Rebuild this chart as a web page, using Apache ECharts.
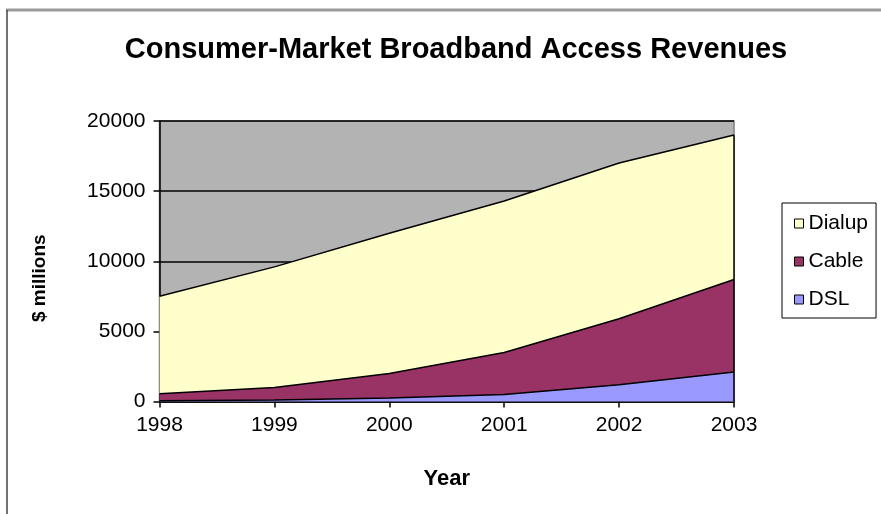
<!DOCTYPE html>
<html>
<head>
<meta charset="utf-8">
<script src="https://cdn.jsdelivr.net/npm/echarts@6/dist/echarts.min.js"></script>
<style>
  html, body { margin: 0; padding: 0; background: #ffffff; }
  #chart { width: 881px; height: 514px; }
</style>
</head>
<body>
<div id="chart"></div>
<script>
// Consumer-market broadband access revenues, $ millions, stacked by access type
var years = ['1998', '1999', '2000', '2001', '2002', '2003'];
var dsl = [50, 100, 250, 500, 1200, 2100];
var cable = [500, 900, 1750, 3000, 4700, 6600];
var dialup = [6950, 8600, 10000, 10800, 11100, 10300];
var yTicks = [0, 5000, 10000, 15000, 20000];

var FONT = '"Liberation Sans", Arial, sans-serif';
var lastIdx = years.length - 1;
var lastTotal = dsl[lastIdx] + cable[lastIdx] + dialup[lastIdx];

function areaSeries(name, data, color) {
  return {
    name: name,
    type: 'line',
    stack: 'total',
    data: data,
    symbol: 'none',
    color: color,
    lineStyle: { color: '#000000', width: 1.5 },
    areaStyle: { color: color, opacity: 1 },
    emphasis: { disabled: true }
  };
}

var series = [
  areaSeries('DSL', dsl, '#9999ff'),
  areaSeries('Cable', cable, '#993366'),
  areaSeries('Dialup', dialup, '#ffffcc')
];
// right-hand edge of the stacked area at the last year
series[2].markLine = {
  silent: true,
  symbol: ['none', 'none'],
  label: { show: false },
  lineStyle: { color: '#000000', width: 1.5, type: 'solid' },
  data: [[{ coord: [years[lastIdx], 0] }, { coord: [years[lastIdx], lastTotal] }]]
};

var chart = echarts.init(document.getElementById('chart'), null, { renderer: 'canvas' });
chart.setOption({
  animation: false,
  backgroundColor: '#ffffff',
  title: {
    text: 'Consumer-Market Broadband Access Revenues',
    left: 451,
    top: 30,
    textAlign: 'center',
    textStyle: { fontFamily: FONT, fontWeight: 'bold', fontSize: 29, color: '#000000' }
  },
  legend: {
    data: ['Dialup', 'Cable', 'DSL'],
    orient: 'vertical',
    left: 782,
    top: 203,
    padding: [10, 8, 8, 12],
    itemGap: 17,
    itemWidth: 9,
    itemHeight: 9,
    itemTextGap: 10,
    icon: 'rect',
    borderColor: '#000000',
    borderWidth: 1,
    backgroundColor: '#ffffff',
    itemStyle: { borderColor: '#000000', borderWidth: 1 },
    textStyle: { fontFamily: FONT, fontSize: 21, color: '#000000' },
    selectedMode: false
  },
  grid: {
    left: 159.5,
    right: 147,
    top: 121,
    bottom: 112.5,
    show: true,
    backgroundColor: '#b3b3b3',
    borderColor: '#808080',
    borderWidth: 1.5
  },
  xAxis: {
    type: 'category',
    data: years,
    boundaryGap: false,
    name: 'Year',
    nameLocation: 'middle',
    nameGap: 66,
    nameTextStyle: { fontFamily: FONT, fontWeight: 'bold', fontSize: 22, color: '#000000' },
    axisLine: { lineStyle: { color: '#000000', width: 1.5 } },
    axisTick: { show: true, length: 6, lineStyle: { color: '#000000', width: 1.5 } },
    axisLabel: { fontFamily: FONT, fontSize: 21, color: '#000000', margin: 13 },
    splitLine: { show: false }
  },
  yAxis: {
    type: 'value',
    min: yTicks[0],
    max: yTicks[yTicks.length - 1],
    interval: yTicks[1] - yTicks[0],
    name: '$ millions',
    nameLocation: 'middle',
    nameGap: 110,
    nameRotate: 90,
    nameTextStyle: { fontFamily: FONT, fontWeight: 'bold', fontSize: 19, color: '#000000', padding: [0, 34, 0, 0] },
    axisLine: { show: true, lineStyle: { color: '#000000', width: 1.5 } },
    axisTick: { show: true, length: 6, lineStyle: { color: '#000000', width: 1.5 } },
    axisLabel: {
      fontFamily: FONT, fontSize: 21, color: '#000000', margin: 14,
      formatter: function (v) { return String(v); }
    },
    splitLine: { show: true, lineStyle: { color: '#000000', width: 1.5 } }
  },
  graphic: [
    { type: 'line', silent: true, z: 100,
      shape: { x1: 6, y1: 10, x2: 881, y2: 10 },
      style: { stroke: '#9a9a9a', lineWidth: 3 } },
    { type: 'line', silent: true, z: 100,
      shape: { x1: 7, y1: 10, x2: 7, y2: 514 },
      style: { stroke: '#444444', lineWidth: 1.5 } }
  ],
  series: series
});
</script>
</body>
</html>
